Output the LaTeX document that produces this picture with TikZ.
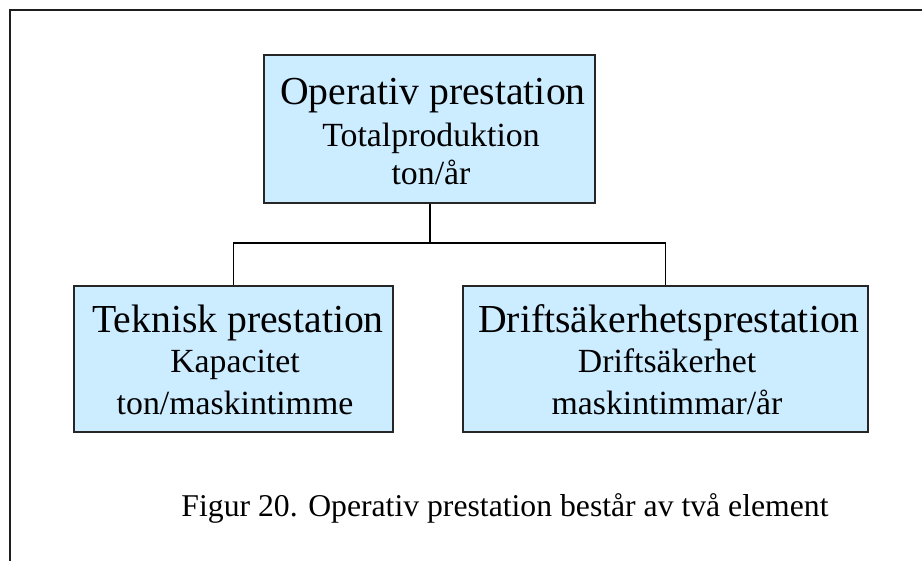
\documentclass[tikz,border=0pt]{standalone}
\usepackage{fontspec}
\setmainfont{Liberation Serif}
\definecolor{boxfill}{RGB}{204,236,255}
\definecolor{framegray}{RGB}{30,30,30}
\begin{document}
\begin{tikzpicture}[x=1pt,y=-1pt,
  blockbox/.style={draw=black!85, fill=boxfill, line width=1.3pt, inner sep=0pt},
  headtext/.style={anchor=base, inner sep=0pt, font=\fontsize{39.7}{44}\selectfont},
  subtext/.style={anchor=base, inner sep=0pt, font=\fontsize{33.8}{38}\selectfont},
  link/.style={draw=black, line width=1.6pt}]
\useasboundingbox (0,0) rectangle (922,561);

% outer frame: only the top and left edges show
\coordinate (fbl) at (9.5,561);
\coordinate (ftl) at (9.5,10.5);
\coordinate (ftr) at (922,10.5);
\draw[framegray, line width=2pt] (fbl) -- (ftl) -- (ftr);

% boxes
\node[blockbox, minimum width=331pt, minimum height=148pt] (op) at (429.5,129) {};
\node[blockbox, minimum width=319pt, minimum height=146pt] (tek) at (233.5,359) {};
\node[blockbox, minimum width=405pt, minimum height=146pt] (drift) at (665.5,359) {};

% box texts
\node[headtext] (opA) at (433,105) {Operativ prestation};
\node[subtext]  (opB) at (431,147) {Totalproduktion};
\node[subtext]  (opC) at (431,185) {ton/år};

\node[headtext] (tekA) at (238,333) {Teknisk prestation};
\node[subtext]  (tekB) at (235,373) {Kapacitet};
\node[subtext]  (tekC) at (235,415) {ton/maskintimme};

\node[headtext] (driftA) at (669,333) {Driftsäkerhetsprestation};
\node[subtext]  (driftB) at (667,373) {Driftsäkerhet};
\node[subtext]  (driftC) at (667,415) {maskintimmar/år};

% connectors
\coordinate (split) at (429.5,243);
\draw[link, line width=2pt] (op.south) -- (split);
\draw[link] (split) -| (tek.north);
\draw[link] (split) -| (drift.north);

% caption
\node[subtext, font=\fontsize{31.7}{36}\selectfont] (cap) at (505,517)
  {Figur 20. Operativ prestation består av två element};
\end{tikzpicture}
\end{document}
